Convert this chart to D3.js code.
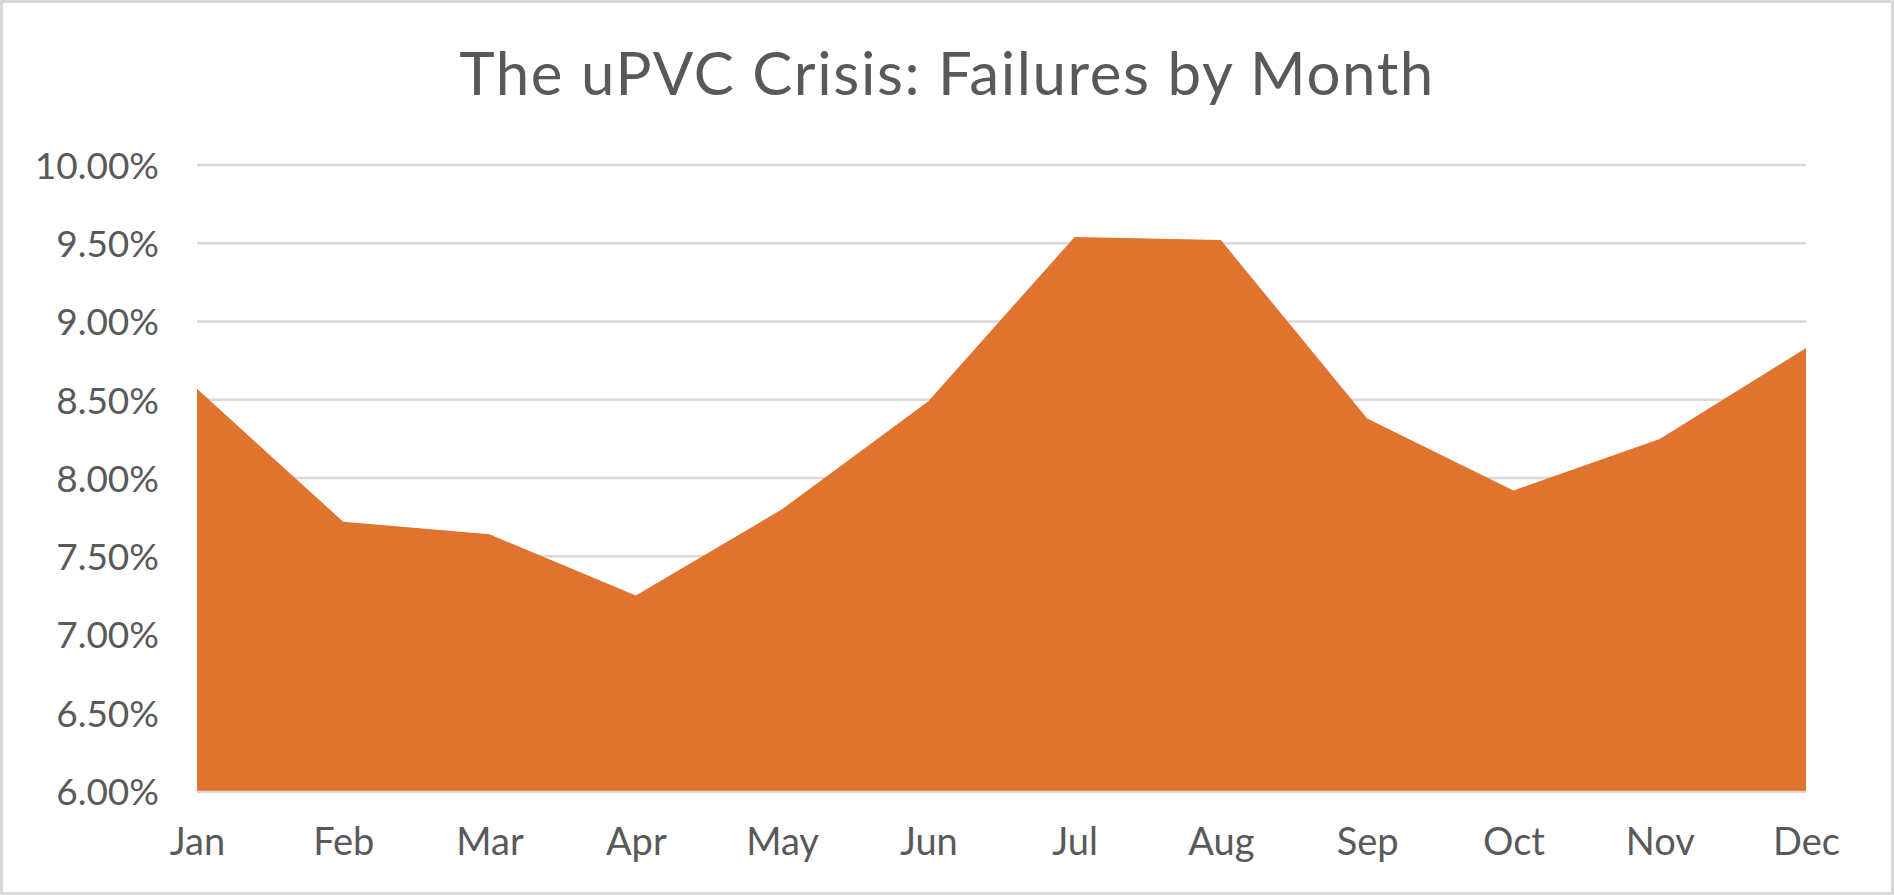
<!DOCTYPE html>
<html>
<head>
<meta charset="utf-8">
<script src="https://cdn.jsdelivr.net/npm/d3@7"></script>
<style>
  html, body { margin: 0; padding: 0; background: #fff; }
  svg { display: block; font-family: Lato, "Open Sans", sans-serif; }
</style>
</head>
<body>
<svg id="chart" width="1894" height="895"></svg>
<script>
const title = 'The uPVC Crisis: Failures by Month'
const months = ['Jan', 'Feb', 'Mar', 'Apr', 'May', 'Jun', 'Jul', 'Aug', 'Sep', 'Oct', 'Nov', 'Dec']
const failures = [8.57, 7.72, 7.64, 7.25, 7.80, 8.49, 9.54, 9.52, 8.38, 7.92, 8.25, 8.83]
const yTicks = [6, 6.5, 7, 7.5, 8, 8.5, 9, 9.5, 10]

const svg = d3.select('#chart')
const width = +svg.attr('width')
const height = +svg.attr('height')
const margin = { top: 165, right: 88, bottom: 104, left: 197 }
const textColor = '#595959'

// chart border
svg.append('rect')
  .attr('x', 1.5).attr('y', 1.5)
  .attr('width', width - 3).attr('height', height - 3)
  .attr('fill', '#fff')
  .attr('stroke', '#d9d9d9')
  .attr('stroke-width', 3)

svg.append('text')
  .attr('x', width / 2)
  .attr('y', 95)
  .attr('text-anchor', 'middle')
  .attr('fill', textColor)
  .attr('font-size', 60)
  .attr('letter-spacing', 1.6)
  .text(title)

const x = d3.scalePoint()
  .domain(months)
  .range([margin.left, width - margin.right])

const y = d3.scaleLinear()
  .domain([6, 10])
  .range([height - margin.bottom, margin.top])

// gridlines
svg.append('g')
  .selectAll('line')
  .data(yTicks)
  .enter()
  .append('line')
  .attr('x1', margin.left)
  .attr('x2', width - margin.right)
  .attr('y1', d => y(d))
  .attr('y2', d => y(d))
  .attr('stroke', '#d9d9d9')
  .attr('stroke-width', 2.5)

const area = d3.area()
  .x((d, i) => x(months[i]))
  .y0(y(6))
  .y1(d => y(d))

svg.append('path')
  .datum(failures)
  .attr('d', area)
  .attr('fill', '#e0742e')

// bottom axis line
svg.append('line')
  .attr('x1', margin.left)
  .attr('x2', width - margin.right)
  .attr('y1', y(6) + 1)
  .attr('y2', y(6) + 1)
  .attr('stroke', '#d9d9d9')
  .attr('stroke-width', 2.5)

const yAxis = svg.append('g')
  .attr('transform', 'translate(' + (margin.left - 38) + ',0)')
  .call(d3.axisLeft(y).tickValues(yTicks).tickSize(0).tickPadding(0)
    .tickFormat(d => d.toFixed(2) + '%'))
yAxis.select('.domain').remove()
yAxis.selectAll('text')
  .attr('fill', textColor)
  .attr('font-size', 37)
  .attr('font-family', 'Lato, sans-serif')
  .attr('dy', '0.36em')

const xAxis = svg.append('g')
  .attr('transform', 'translate(0,' + (height - margin.bottom) + ')')
  .call(d3.axisBottom(x).tickSize(0).tickPadding(0))
xAxis.select('.domain').remove()
xAxis.selectAll('text')
  .attr('fill', textColor)
  .attr('font-size', 38)
  .attr('font-family', 'Lato, sans-serif')
  .attr('dy', null)
  .attr('y', 64)
</script>
</body>
</html>
